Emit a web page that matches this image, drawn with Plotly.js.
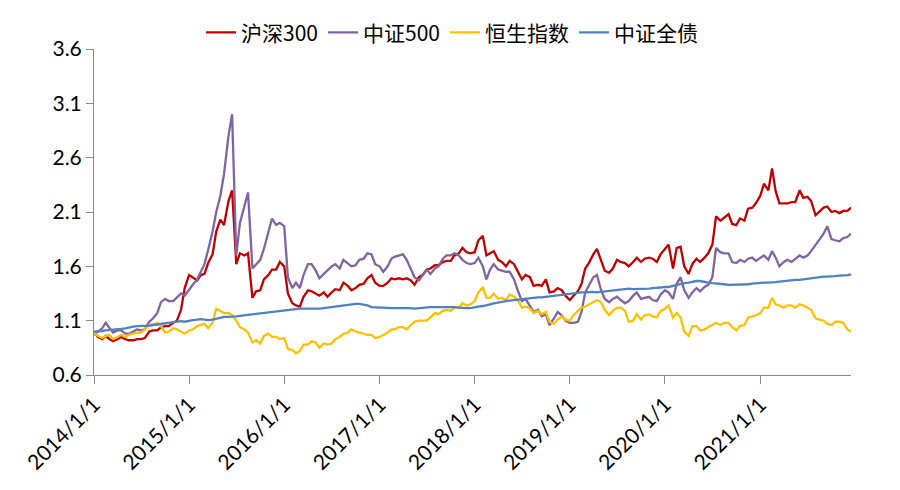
<!DOCTYPE html>
<html>
<head>
<meta charset="utf-8">
<script src="https://cdn.plot.ly/plotly-3.0.1.min.js"></script>
<style>html,body{margin:0;padding:0;background:#fff;}#chart{width:900px;height:490px;}</style>
</head>
<body>
<div id="chart"></div>
<script>
// Semi-monthly observation dates (1st and 15th of each month), 2014-01 .. 2021-12
const years = [2014, 2015, 2016, 2017, 2018, 2019, 2020, 2021];
const dates = [];
years.forEach(function (y) {
  for (let m = 1; m <= 12; m++) {
    const mm = (m < 10 ? '0' : '') + m;
    dates.push(y + '-' + mm + '-01');
    dates.push(y + '-' + mm + '-15');
  }
});

const seriesNames = ['沪深300', '中证500', '恒生指数', '中证全债'];
const seriesColors = ['#C00000', '#8064A2', '#FFC000', '#4F81BD'];

const hs300 = [
  1.00,0.95,0.93,0.96,0.93,0.91,0.93,0.95,0.93,0.92,0.92,0.93,0.93,0.94,1.00,1.01,1.01,1.04,1.05,1.05,1.08,1.10,1.20,1.40,
  1.52,1.50,1.47,1.52,1.53,1.63,1.71,1.92,2.03,1.98,2.20,2.30,1.62,1.72,1.70,1.72,1.31,1.37,1.38,1.48,1.52,1.57,1.57,1.64,
  1.60,1.35,1.26,1.24,1.23,1.32,1.38,1.37,1.35,1.33,1.36,1.32,1.36,1.39,1.38,1.45,1.42,1.38,1.40,1.43,1.44,1.49,1.52,1.45,
  1.42,1.42,1.45,1.49,1.48,1.49,1.48,1.49,1.47,1.43,1.50,1.52,1.57,1.58,1.61,1.61,1.64,1.65,1.65,1.70,1.72,1.77,1.73,1.72,
  1.73,1.84,1.88,1.70,1.72,1.74,1.66,1.64,1.60,1.65,1.62,1.56,1.48,1.52,1.50,1.42,1.43,1.42,1.48,1.36,1.37,1.40,1.38,1.33,
  1.29,1.33,1.37,1.44,1.58,1.63,1.71,1.76,1.66,1.56,1.54,1.58,1.66,1.64,1.63,1.60,1.64,1.68,1.64,1.67,1.68,1.67,1.64,1.71,
  1.76,1.80,1.58,1.77,1.78,1.60,1.53,1.62,1.67,1.64,1.68,1.72,1.80,2.06,2.02,2.05,2.08,1.99,1.98,2.04,2.02,2.13,2.14,2.18,
  2.25,2.36,2.30,2.50,2.29,2.18,2.18,2.18,2.19,2.19,2.30,2.23,2.24,2.20,2.07,2.10,2.14,2.15,2.10,2.11,2.09,2.11,2.11,2.14
];

const zz500 = [
  0.97,1.00,1.03,1.08,1.04,0.99,1.01,1.01,0.98,0.98,1.00,1.02,1.01,1.02,1.09,1.12,1.17,1.27,1.30,1.28,1.28,1.31,1.35,1.33,
  1.39,1.43,1.48,1.55,1.62,1.75,1.92,2.10,2.25,2.45,2.80,3.00,1.70,2.00,2.15,2.28,1.58,1.62,1.66,1.76,1.90,2.04,1.98,2.00,
  1.97,1.50,1.40,1.45,1.40,1.52,1.62,1.62,1.56,1.49,1.53,1.56,1.60,1.62,1.58,1.66,1.63,1.60,1.61,1.66,1.67,1.72,1.71,1.62,
  1.60,1.55,1.60,1.67,1.69,1.70,1.71,1.66,1.58,1.50,1.47,1.52,1.57,1.53,1.58,1.60,1.67,1.70,1.70,1.72,1.70,1.66,1.63,1.62,
  1.63,1.68,1.60,1.48,1.57,1.62,1.57,1.56,1.55,1.55,1.48,1.38,1.28,1.30,1.24,1.18,1.20,1.14,1.16,1.06,1.12,1.18,1.15,1.10,
  1.08,1.08,1.09,1.18,1.36,1.42,1.50,1.52,1.38,1.30,1.27,1.30,1.32,1.29,1.26,1.28,1.33,1.36,1.30,1.31,1.32,1.29,1.28,1.34,
  1.38,1.36,1.30,1.44,1.50,1.38,1.31,1.36,1.40,1.37,1.41,1.43,1.50,1.77,1.73,1.72,1.72,1.64,1.63,1.66,1.64,1.67,1.68,1.65,
  1.68,1.70,1.66,1.74,1.68,1.60,1.64,1.66,1.64,1.67,1.70,1.68,1.70,1.74,1.80,1.84,1.90,1.97,1.85,1.84,1.83,1.86,1.87,1.90
];

const hsi = [
  0.99,0.96,0.94,0.96,0.97,0.93,0.95,0.97,0.95,0.97,0.98,0.99,0.99,1.02,1.06,1.06,1.08,1.05,0.99,1.00,1.03,1.02,1.00,0.98,
  1.01,1.02,1.05,1.06,1.07,1.03,1.08,1.21,1.19,1.17,1.17,1.15,1.10,1.04,1.02,0.99,0.90,0.92,0.89,0.96,0.98,0.95,0.95,0.93,
  0.94,0.84,0.83,0.80,0.82,0.88,0.88,0.91,0.90,0.85,0.89,0.88,0.89,0.93,0.95,0.98,0.99,1.02,1.00,0.99,0.98,0.97,0.97,0.94,
  0.95,0.97,0.99,1.02,1.02,1.04,1.04,1.02,1.06,1.09,1.10,1.10,1.10,1.13,1.17,1.16,1.19,1.20,1.19,1.22,1.22,1.26,1.24,1.25,
  1.28,1.36,1.41,1.31,1.31,1.35,1.30,1.31,1.29,1.34,1.32,1.29,1.22,1.23,1.21,1.17,1.19,1.16,1.18,1.09,1.07,1.11,1.14,1.11,
  1.10,1.15,1.19,1.22,1.23,1.25,1.27,1.29,1.27,1.20,1.15,1.19,1.22,1.22,1.19,1.09,1.10,1.16,1.11,1.15,1.16,1.14,1.13,1.19,
  1.21,1.24,1.13,1.17,1.13,1.00,0.96,1.05,1.05,1.01,1.02,1.04,1.06,1.08,1.06,1.08,1.08,1.04,1.01,1.05,1.06,1.13,1.14,1.15,
  1.17,1.22,1.22,1.31,1.25,1.24,1.22,1.24,1.24,1.22,1.25,1.24,1.22,1.20,1.12,1.11,1.10,1.07,1.06,1.09,1.09,1.08,1.02,1.00
];

const bond = [
  1.000,1.000,1.005,1.010,1.015,1.020,1.020,1.025,1.030,1.040,1.045,1.050,1.050,1.055,1.055,1.060,1.065,1.070,1.075,1.080,1.085,1.090,1.095,1.090,
  1.100,1.105,1.110,1.115,1.110,1.105,1.110,1.120,1.130,1.135,1.135,1.135,1.140,1.145,1.150,1.155,1.155,1.160,1.165,1.170,1.175,1.180,1.185,1.190,
  1.195,1.200,1.205,1.210,1.210,1.210,1.210,1.205,1.205,1.210,1.215,1.220,1.225,1.230,1.240,1.245,1.245,1.250,1.255,1.255,1.250,1.240,1.225,1.220,
  1.220,1.220,1.215,1.215,1.215,1.215,1.220,1.220,1.215,1.210,1.215,1.220,1.225,1.225,1.225,1.225,1.230,1.230,1.230,1.225,1.220,1.215,1.215,1.215,
  1.225,1.230,1.235,1.240,1.250,1.260,1.265,1.275,1.280,1.285,1.290,1.295,1.300,1.305,1.310,1.315,1.315,1.315,1.320,1.325,1.330,1.335,1.340,1.345,
  1.350,1.355,1.360,1.360,1.360,1.365,1.365,1.360,1.365,1.370,1.375,1.380,1.380,1.385,1.390,1.395,1.390,1.390,1.390,1.390,1.395,1.400,1.400,1.405,
  1.410,1.410,1.420,1.430,1.440,1.445,1.450,1.460,1.465,1.465,1.455,1.450,1.445,1.440,1.440,1.435,1.430,1.430,1.430,1.430,1.435,1.435,1.440,1.445,
  1.445,1.450,1.450,1.450,1.455,1.460,1.465,1.470,1.470,1.475,1.475,1.480,1.485,1.490,1.500,1.505,1.505,1.505,1.505,1.510,1.515,1.515,1.520,1.525
];

const xTickVals = ['2014-01-01','2015-01-01','2016-01-01','2017-01-01','2018-01-01','2019-01-01','2020-01-01','2021-01-01'];
const xTickText = ['2014/1/1','2015/1/1','2016/1/1','2017/1/1','2018/1/1','2019/1/1','2020/1/1','2021/1/1'];

const allValues = [hs300, zz500, hsi, bond];
const traces = allValues.map(function (vals, i) {
  return {
    x: dates,
    y: vals,
    type: 'scatter',
    mode: 'lines',
    name: seriesNames[i],
    line: { color: seriesColors[i], width: 2.3 }
  };
});

const axisColor = '#898989';
const layout = {
  width: 900,
  height: 490,
  margin: { l: 94, r: 49, t: 44, b: 115 },
  paper_bgcolor: '#ffffff',
  plot_bgcolor: '#ffffff',
  font: { family: 'Lato, "Noto Sans CJK SC", sans-serif', size: 21, color: '#000000' },
  showlegend: true,
  legend: {
    orientation: 'h',
    x: 0.473, xanchor: 'center',
    y: 1.05, yanchor: 'middle',
    font: { family: '"Noto Sans CJK SC", Lato, sans-serif', size: 21, color: '#000000' },
    itemwidth: 30,
    tracegroupgap: 0
  },
  xaxis: {
    type: 'date',
    range: ['2014-01-01', '2021-12-15'],
    tickmode: 'array',
    tickvals: xTickVals,
    ticktext: xTickText,
    tickangle: -45,
    showline: true,
    linecolor: axisColor,
    linewidth: 1,
    ticks: 'outside',
    ticklen: 8,
    tickcolor: axisColor,
    showgrid: false,
    zeroline: false,
    tickfont: { size: 21 }
  },
  yaxis: {
    range: [0.6, 3.6],
    tickmode: 'linear',
    tick0: 0.6,
    dtick: 0.5,
    tickformat: '.1f',
    showline: true,
    linecolor: axisColor,
    linewidth: 1,
    ticks: 'outside',
    ticklen: 7,
    tickcolor: axisColor,
    showgrid: false,
    zeroline: false,
    tickfont: { size: 21 }
  }
};

Plotly.newPlot('chart', traces, layout, { displayModeBar: false, staticPlot: true });
</script>
</body>
</html>
